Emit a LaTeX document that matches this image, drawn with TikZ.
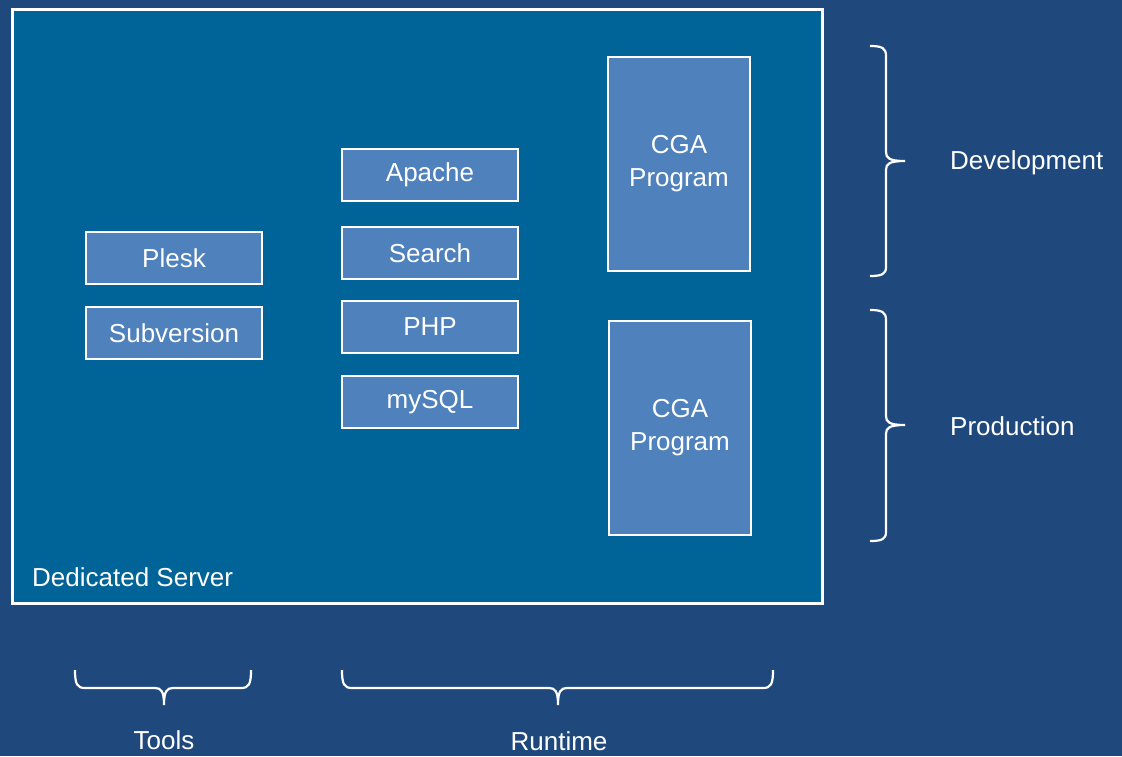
\documentclass[tikz,border=0pt]{standalone}
\usepackage{fontspec}
\setmainfont{Liberation Sans}
\definecolor{bgblue}{RGB}{31,73,125}
\definecolor{srvblue}{RGB}{0,100,152}
\definecolor{boxblue}{RGB}{79,129,189}
\begin{document}
\begin{tikzpicture}[x=1pt,y=-1pt,
  comp/.style={draw=white,line width=2pt,fill=boxblue,text=white,inner sep=0pt,
    minimum width=176pt,minimum height=52pt,font=\fontsize{26}{33}\selectfont},
  tall/.style={comp,minimum width=142pt,minimum height=214pt,align=center},
  lbl/.style={text=white,inner sep=0pt,font=\fontsize{26}{33}\selectfont},
  bracepath/.style={draw=white,line width=2.2pt}]
\fill[bgblue] (0,0) rectangle (1122,756);
\useasboundingbox (0,0) rectangle (1122,756);
% server
\draw[draw=white,line width=3pt,fill=srvblue] (12,9) rectangle (822,603);
\node[lbl,anchor=west] (srv) at (32,577) {Dedicated Server};
% components
\node[comp] (plesk) at (174,258) {Plesk};
\node[comp] (svn) at (174,333) {Subversion};
\node[comp] (apache) at (430,175) {Apache};
\node[comp] (search) at (430,253) {Search};
\node[comp] (php) at (430,327) {PHP};
\node[comp] (mysql) at (430,402) {mySQL};
\node[tall] (cga1) at (679,164) {CGA\\Program};
\node[tall] (cga2) at (680,428) {CGA\\Program};
% right braces
\draw[bracepath] (870,46) .. controls (882,46) and (886,48) .. (886,56) -- (886,152)
  .. controls (886,158) and (889,161) .. (905,161)
  .. controls (889,161) and (886,164) .. (886,170) -- (886,267)
  .. controls (886,274) and (882,276) .. (870,276);
\node[lbl,anchor=west] (dev) at (950,163) {Development};
\draw[bracepath] (870,310) .. controls (882,310) and (886,312) .. (886,320) -- (886,416)
  .. controls (886,422) and (889,425) .. (905,425)
  .. controls (889,425) and (886,428) .. (886,434) -- (886,532)
  .. controls (886,539) and (882,541) .. (870,541);
\node[lbl,anchor=west] (prod) at (950,426) {Production};
% bottom braces
\draw[bracepath] (75,670) .. controls (75,684) and (77,688) .. (85,688) -- (155,688)
  .. controls (161,688) and (164,691) .. (164,705)
  .. controls (164,691) and (167,688) .. (173,688) -- (241,688)
  .. controls (249,688) and (251,684) .. (251,670);
\node[lbl] (tools) at (164,740) {Tools};
\draw[bracepath] (342,670) .. controls (342,684) and (344,688) .. (352,688) -- (549,688)
  .. controls (555,688) and (558,691) .. (558,705)
  .. controls (558,691) and (561,688) .. (567,688) -- (763,688)
  .. controls (771,688) and (773,684) .. (773,670);
\node[lbl] (run) at (559,741) {Runtime};
\end{tikzpicture}
\end{document}
